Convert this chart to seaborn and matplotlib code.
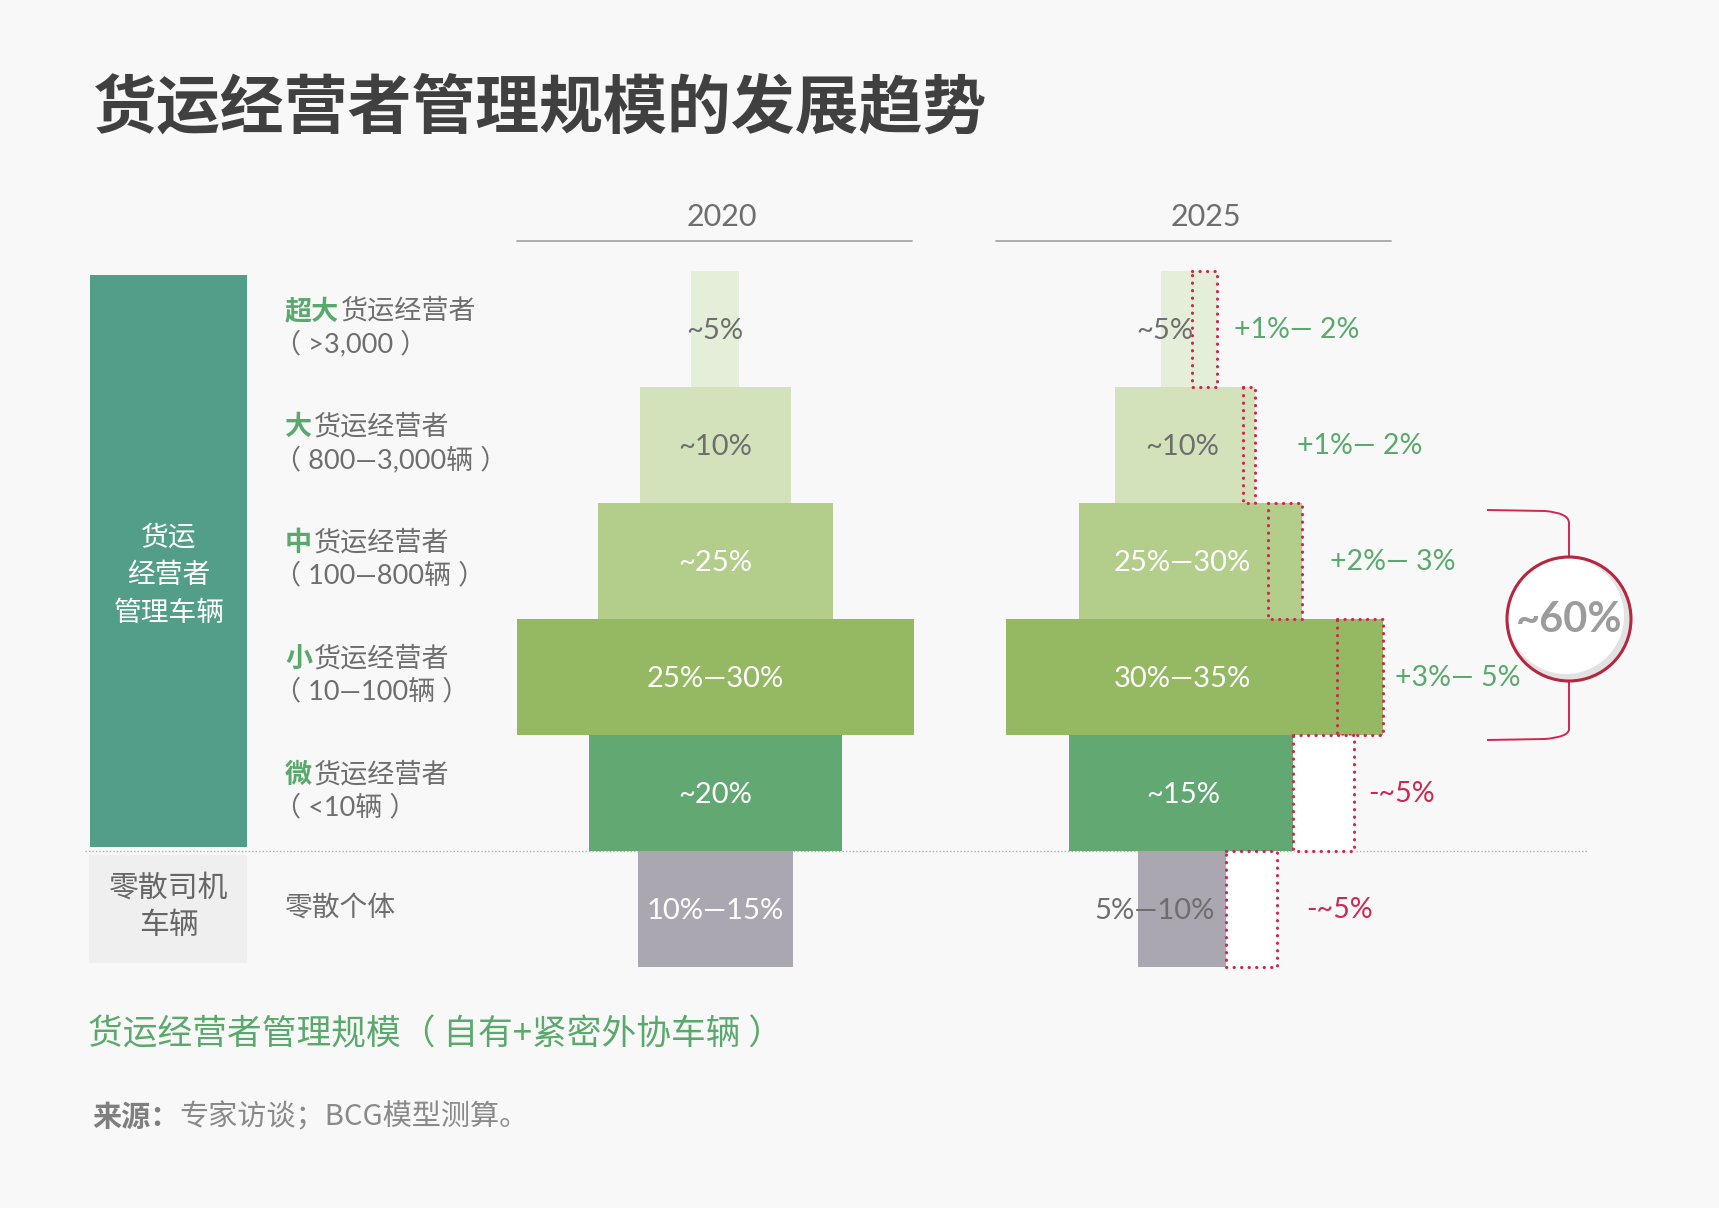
import numpy as np
import pandas as pd
import matplotlib.pyplot as plt
import seaborn as sns
from matplotlib.patches import Rectangle, Circle, PathPatch
from matplotlib.path import Path

# %%
# data
tiers = ['超大', '大', '中', '小', '微', '零散']
tier_rest = ['货运经营者', '货运经营者', '货运经营者', '货运经营者', '货运经营者', '个体']
tier_range = ['（ >3,000 ）', '（ 800—3,000辆 ）', '（ 100—800辆 ）',
              '（ 10—100辆 ）', '（ <10辆 ）', '']
label_2020 = ['~5%', '~10%', '~25%', '25%—30%', '~20%', '10%—15%']
label_2025 = ['~5%', '~10%', '25%—30%', '30%—35%', '~15%', '5%—10%']
label_change = ['+1%— 2%', '+1%— 2%', '+2%— 3%', '+3%— 5%', '-~5%', '-~5%']
# bar widths (visual units)
width_2020 = [48, 151, 235, 397, 253, 155]
base_2025 = [31, 128, 189, 331, 224, 88]
delta_2025 = [25, 12, 34, 46, -61, -51]
years = ['2020', '2025']

# %%
# layout / style
W, H = 1719, 1208
bg = '#f8f8f8'
green_txt = '#5aa96c'
red = '#cf2750'
gray_txt = '#6e6e6e'
bar_colors = ['#e5eed8', '#d3e2bb', '#b3cd8b', '#95b963', '#62a872', '#aaa7b0']
txt_2020 = [gray_txt, gray_txt, 'white', 'white', 'white', 'white']
txt_2025 = [gray_txt, gray_txt, 'white', 'white', 'white', gray_txt]
row_top, row_h = 271, 116
yc = row_top + row_h * (np.arange(6) + 0.5)
center_2020 = 715
left_2025 = np.array([1161, 1115, 1079, 1006, 1069, 1138])
text_x_2025 = [1165, 1182, 1182, 1182, 1183, 1155]
change_x = [1234, 1297, 1330, 1395, 1368, 1306]
header_x = [722, 1206]
header_line = [(517, 912), (996, 1391)]

sns.set_theme(style='white')
plt.rcParams['font.family'] = ['Lato', 'Noto Sans CJK SC', 'DejaVu Sans']
num_font = ['Lato', 'Noto Sans CJK SC', 'DejaVu Sans']
cjk_font = ['Noto Sans CJK SC', 'DejaVu Sans']

fig = plt.figure(figsize=(W / 100, H / 100), dpi=100, facecolor=bg)
ax = fig.add_axes([0, 0, 1, 1])
ax.set_facecolor(bg)

# %%
# pyramid bars
w20 = np.array(width_2020)
df20 = pd.DataFrame({'y': yc, 'w': w20})
sns.barplot(data=df20, x='w', y='y', orient='y', native_scale=True, width=1,
            errorbar=None, color='#cccccc', saturation=1,
            left=center_2020 - w20 / 2, linewidth=0, ax=ax)
b25 = np.array(base_2025)
d25 = np.array(delta_2025)
df25 = pd.DataFrame({'y': yc, 'w': b25 + np.clip(d25, 0, None)})
sns.barplot(data=df25, x='w', y='y', orient='y', native_scale=True, width=1,
            errorbar=None, color='#cccccc', saturation=1,
            left=left_2025, linewidth=0, ax=ax)
for p, c in zip(ax.patches[:12], bar_colors * 2):
    p.set_facecolor(c)
    p.set_edgecolor('none')
    p.set_zorder(2)

# change boxes (dotted)
for i in range(6):
    x0 = left_2025[i] + b25[i]
    ax.add_patch(Rectangle(
        (x0, yc[i] - row_h / 2), abs(d25[i]), row_h,
        facecolor='white' if d25[i] < 0 else 'none', edgecolor=red,
        linewidth=2.3, linestyle=(0, (0.05, 2.3)), capstyle='round', zorder=3))

# bar labels
for i in range(6):
    ax.text(center_2020, yc[i] + 2, label_2020[i], ha='center', va='center',
            fontsize=21, color=txt_2020[i], family=num_font, zorder=5)
    ax.text(text_x_2025[i], yc[i] + 2, label_2025[i], ha='center', va='center',
            fontsize=21, color=txt_2025[i], family=num_font, zorder=5)
    ax.text(change_x[i], yc[i] + 1, label_change[i], ha='left', va='center',
            fontsize=20.5, color=green_txt if d25[i] > 0 else red,
            family=num_font, zorder=5)

# %%
# year headers
for yr, cx, (x0, x1) in zip(years, header_x, header_line):
    ax.text(cx, 217, yr, ha='center', va='center', fontsize=22, color=gray_txt,
            family=num_font)
    ax.plot([x0, x1], [241, 241], color='#a8a8a8', lw=1.3)

# left blocks
ax.add_patch(Rectangle((90, 275), 157, 572, facecolor='#539e89', edgecolor='none'))
ax.add_patch(Rectangle((89, 855), 158, 108, facecolor='#efefef', edgecolor='none'))
for line, y in zip(['货运', '经营者', '管理车辆'], [538, 575, 613]):
    ax.text(169, y, line, ha='center', va='center', fontsize=20, color='white',
            family=cjk_font)
for line, y in zip(['零散司机', '车辆'], [888, 925]):
    ax.text(169, y, line, ha='center', va='center', fontsize=21.5, color='#666666',
            family=cjk_font)

# dotted separator
ax.plot([85, 1588], [851, 851], color='#b0b0b0', lw=1.0, ls=(0, (1, 1.5)), zorder=1)

# tier labels
em = 19.5 * 100 / 72
for i in range(6):
    if i < 5:
        ax.text(285, yc[i] - 18, tiers[i], ha='left', va='center', fontsize=19.5,
                color=green_txt, family=cjk_font, weight='bold')
        ax.text(287 + em * len(tiers[i]), yc[i] - 18, tier_rest[i], ha='left',
                va='center', fontsize=19.5, color=gray_txt, family=cjk_font)
        ax.text(274, yc[i] + 15, tier_range[i], ha='left', va='center', fontsize=19.5,
                color=gray_txt, family=num_font)
    else:
        ax.text(284, yc[i] - 1, tiers[i] + tier_rest[i], ha='left', va='center',
                fontsize=20, color=gray_txt, family=cjk_font)

# %%
# bracket + circle
verts = [(1487, 510), (1545, 511), (1569, 513), (1569, 523), (1569, 557)]
codes = [Path.MOVETO, Path.LINETO, Path.CURVE3, Path.CURVE3, Path.LINETO]
ax.add_patch(PathPatch(Path(verts, codes), fc='none', ec=red, lw=1.4))
verts = [(1569, 681), (1569, 729), (1569, 737), (1545, 739), (1487, 740)]
ax.add_patch(PathPatch(Path(verts, codes), fc='none', ec=red, lw=1.4))
cx, cy, r = 1569, 619, 62
ax.add_patch(Circle((cx, cy), r, fc='#e2e2e2', ec='none', zorder=4))
ax.add_patch(Circle((cx - 3, cy - 3), r - 4, fc='white', ec='none', zorder=4))
ax.add_patch(Circle((cx, cy), r, fc='none', ec='#b5263f', lw=2.2, zorder=4))
ax.text(cx, cy + 1, '~60%', ha='center', va='center', fontsize=30, color='#9c9c9c',
        family=num_font, weight='bold', zorder=5)

# %%
# titles
ax.text(93, 109, '货运经营者管理规模的发展趋势', ha='left', va='center', fontsize=46,
        color='#404040', family=cjk_font, weight='bold')
ax.text(88, 1035, '货运经营者管理规模（ 自有+紧密外协车辆 ）', ha='left', va='center',
        fontsize=25, color=green_txt, family=cjk_font)
ax.text(92, 1117, '来源：', ha='left', va='center', fontsize=21, color='#7f7f7f',
        family=cjk_font, weight='bold')
ax.text(92 + 3 * 21 * 100 / 72, 1117, '专家访谈；BCG模型测算。', ha='left', va='center',
        fontsize=21, color='#8a8a8a', family=cjk_font)

ax.set_xlim(0, W)
ax.set_ylim(H, 0)
ax.axis('off')
plt.savefig('out.png', dpi=100, facecolor=bg)
